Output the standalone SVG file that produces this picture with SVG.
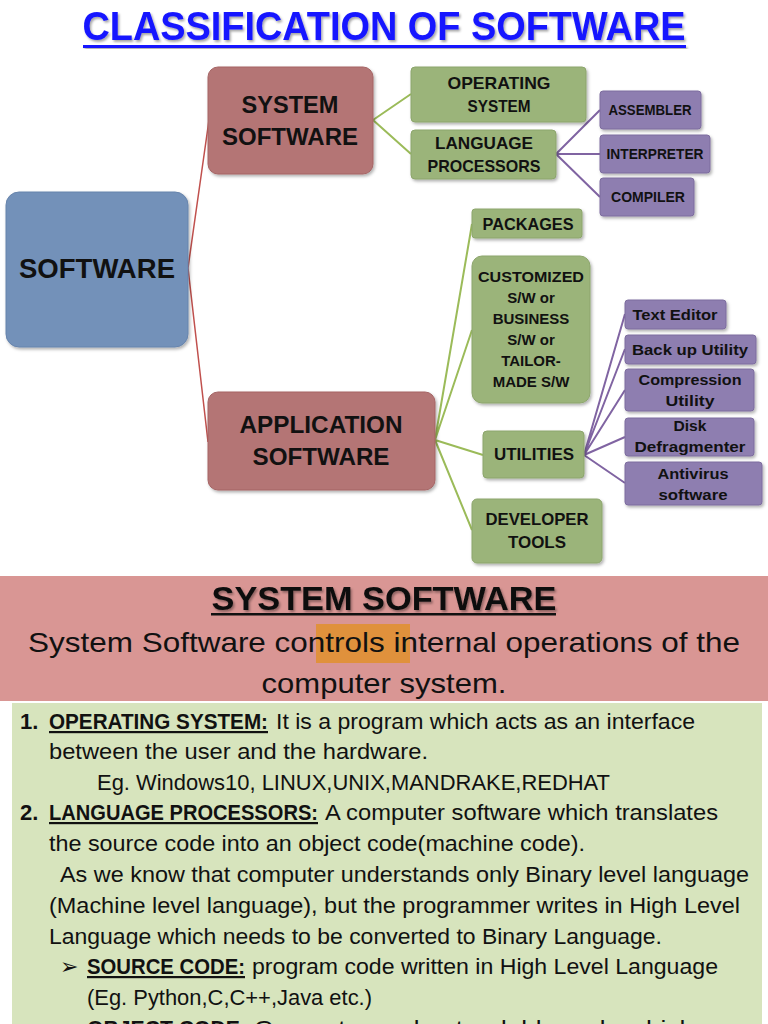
<svg xmlns="http://www.w3.org/2000/svg" width="768" height="1024" viewBox="0 0 768 1024">
<defs>
<filter id="sh" x="-10%" y="-10%" width="130%" height="130%"><feDropShadow dx="1.5" dy="2" stdDeviation="1.5" flood-color="#000" flood-opacity="0.3"/></filter>
<filter id="tsh" x="-5%" y="-20%" width="110%" height="150%"><feDropShadow dx="1.5" dy="2" stdDeviation="1.2" flood-color="#000" flood-opacity="0.35"/></filter>
<style>
.n{font-family:"Liberation Sans",Arial,sans-serif;font-weight:bold;fill:#111;text-anchor:middle}
.blue{fill:#7391b9;stroke:#6784ac;stroke-width:1}
.red{fill:#b47575;stroke:#a56565;stroke-width:1}
.green{fill:#9bb47a;stroke:#8ca56c;stroke-width:1}
.purple{fill:#8e7eb0;stroke:#7d6d9e;stroke-width:1}
.cr{stroke:#c0504d;stroke-width:1.5;fill:none}
.cg{stroke:#9bbb59;stroke-width:2;fill:none}
.cp{stroke:#8064a2;stroke-width:2;fill:none}
.b{font-family:"Liberation Sans",Arial,sans-serif;font-size:22px;fill:#111}
.bb{font-weight:bold;text-decoration:underline}
</style>
</defs>
<rect width="768" height="1024" fill="#fff"/>

<g id="title">
<text x="384" y="40" font-family="Liberation Sans,Arial,sans-serif" font-weight="bold" font-size="40" fill="#1414ff" text-anchor="middle" textLength="603" lengthAdjust="spacingAndGlyphs" filter="url(#tsh)">CLASSIFICATION OF SOFTWARE</text>
<rect x="83" y="45" width="603" height="3" fill="#1414ff" filter="url(#tsh)"/>
</g>

<g id="connectors">
<path class="cr" d="M188,268 L209,120 M188,268 L208,442"/>
<path class="cg" d="M373,120 L411,94 M373,120 L411,154"/>
<path class="cp" d="M556,154 L600,110 M556,154 L600,154 M556,154 L600,197"/>
<path class="cg" d="M435,440 L472,224 M435,440 L472,330 M435,440 L483,455 M435,440 L472,530"/>
<path class="cp" d="M584,455 L625,314 M584,455 L625,349 M584,455 L625,390 M584,455 L625,437 M584,455 L625,483"/>
</g>

<g id="software"><rect class="blue" x="6" y="192" width="182" height="155" rx="13" filter="url(#sh)"/>
<text class="n" x="97" y="278" font-size="27" textLength="156" lengthAdjust="spacingAndGlyphs">SOFTWARE</text></g>

<g id="system-software"><rect class="red" x="208" y="67" width="165" height="107" rx="10" filter="url(#sh)"/>
<text class="n" x="290" y="113" font-size="24" textLength="97" lengthAdjust="spacingAndGlyphs">SYSTEM</text>
<text class="n" x="290" y="145" font-size="24" textLength="136" lengthAdjust="spacingAndGlyphs">SOFTWARE</text></g>

<g id="application-software"><rect class="red" x="208" y="392" width="227" height="98" rx="10" filter="url(#sh)"/>
<text class="n" x="321" y="433" font-size="24" textLength="163" lengthAdjust="spacingAndGlyphs">APPLICATION</text>
<text class="n" x="321" y="465" font-size="24" textLength="137" lengthAdjust="spacingAndGlyphs">SOFTWARE</text></g>

<g id="operating-system"><rect class="green" x="411" y="67" width="175" height="55" rx="4" filter="url(#sh)"/>
<text class="n" x="499" y="89" font-size="17" textLength="103" lengthAdjust="spacingAndGlyphs">OPERATING</text>
<text class="n" x="499" y="112" font-size="17" textLength="63" lengthAdjust="spacingAndGlyphs">SYSTEM</text></g>

<g id="language-processors"><rect class="green" x="411" y="130" width="145" height="49" rx="4" filter="url(#sh)"/>
<text class="n" x="484" y="149" font-size="17" textLength="98" lengthAdjust="spacingAndGlyphs">LANGUAGE</text>
<text class="n" x="484" y="172" font-size="17" textLength="113" lengthAdjust="spacingAndGlyphs">PROCESSORS</text></g>

<g id="assembler"><rect class="purple" x="600" y="91" width="101" height="38" rx="3" filter="url(#sh)"/>
<text class="n" x="650" y="115" font-size="14" textLength="83" lengthAdjust="spacingAndGlyphs">ASSEMBLER</text></g>

<g id="interpreter"><rect class="purple" x="600" y="135" width="110" height="38" rx="3" filter="url(#sh)"/>
<text class="n" x="655" y="159" font-size="14" textLength="97" lengthAdjust="spacingAndGlyphs">INTERPRETER</text></g>

<g id="compiler"><rect class="purple" x="600" y="178" width="94" height="38" rx="3" filter="url(#sh)"/>
<text class="n" x="648" y="202" font-size="14" textLength="74" lengthAdjust="spacingAndGlyphs">COMPILER</text></g>

<g id="packages"><rect class="green" x="472" y="209" width="110" height="29" rx="3" filter="url(#sh)"/>
<text class="n" x="528" y="230" font-size="16" textLength="91" lengthAdjust="spacingAndGlyphs">PACKAGES</text></g>

<g id="customized"><rect class="green" x="472" y="256" width="118" height="147" rx="10" filter="url(#sh)"/>
<text class="n" x="531" y="282" font-size="15" textLength="106" lengthAdjust="spacingAndGlyphs">CUSTOMIZED</text>
<text class="n" x="531" y="303" font-size="15">S/W or</text>
<text class="n" x="531" y="324" font-size="15">BUSINESS</text>
<text class="n" x="531" y="345" font-size="15">S/W or</text>
<text class="n" x="531" y="366" font-size="15">TAILOR-</text>
<text class="n" x="531" y="387" font-size="15">MADE S/W</text></g>

<g id="utilities"><rect class="green" x="483" y="431" width="101" height="47" rx="4" filter="url(#sh)"/>
<text class="n" x="534" y="460" font-size="16" textLength="80" lengthAdjust="spacingAndGlyphs">UTILITIES</text></g>

<g id="developer-tools"><rect class="green" x="472" y="499" width="130" height="64" rx="5" filter="url(#sh)"/>
<text class="n" x="537" y="525" font-size="17" textLength="103" lengthAdjust="spacingAndGlyphs">DEVELOPER</text>
<text class="n" x="537" y="548" font-size="17" textLength="58" lengthAdjust="spacingAndGlyphs">TOOLS</text></g>

<g id="text-editor"><rect class="purple" x="625" y="300" width="101" height="29" rx="3" filter="url(#sh)"/>
<text class="n" x="675" y="320" font-size="15" textLength="85" lengthAdjust="spacingAndGlyphs">Text Editor</text></g>

<g id="backup-utility"><rect class="purple" x="625" y="335" width="131" height="29" rx="3" filter="url(#sh)"/>
<text class="n" x="690" y="355" font-size="15" textLength="116" lengthAdjust="spacingAndGlyphs">Back up Utility</text></g>

<g id="compression-utility"><rect class="purple" x="625" y="369" width="129" height="42" rx="3" filter="url(#sh)"/>
<text class="n" x="690" y="385" font-size="15" textLength="103" lengthAdjust="spacingAndGlyphs">Compression</text>
<text class="n" x="690" y="406" font-size="15" textLength="49" lengthAdjust="spacingAndGlyphs">Utility</text></g>

<g id="disk-defragmenter"><rect class="purple" x="625" y="418" width="129" height="38" rx="3" filter="url(#sh)"/>
<text class="n" x="690" y="431" font-size="15" textLength="33" lengthAdjust="spacingAndGlyphs">Disk</text>
<text class="n" x="690" y="452" font-size="15" textLength="111" lengthAdjust="spacingAndGlyphs">Defragmenter</text></g>

<g id="antivirus-software"><rect class="purple" x="625" y="462" width="137" height="43" rx="3" filter="url(#sh)"/>
<text class="n" x="693" y="479" font-size="15" textLength="71" lengthAdjust="spacingAndGlyphs">Antivirus</text>
<text class="n" x="693" y="500" font-size="15" textLength="69" lengthAdjust="spacingAndGlyphs">software</text></g>

<g id="system-software-banner">
<rect x="0" y="576" width="768" height="125" fill="#d99694"/>
<rect x="316" y="624" width="94" height="39" fill="#e0913c"/>
<text x="384" y="610" font-family="Liberation Sans,Arial,sans-serif" font-weight="bold" font-size="33" fill="#111" text-anchor="middle" textLength="345" lengthAdjust="spacingAndGlyphs" filter="url(#tsh)">SYSTEM SOFTWARE</text>
<rect x="211" y="613" width="345" height="2.5" fill="#111"/>
<text x="28" y="652" font-family="Liberation Sans,Arial,sans-serif" font-size="28" fill="#111" textLength="712" lengthAdjust="spacingAndGlyphs">System Software controls internal operations of the</text>
<text x="384" y="693" font-family="Liberation Sans,Arial,sans-serif" font-size="28" fill="#111" text-anchor="middle" textLength="245" lengthAdjust="spacingAndGlyphs">computer system.</text>
</g>

<g id="system-software-details">
<rect x="12" y="703" width="750" height="330" fill="#d7e4bd"/>
<text class="b" x="20" y="729" font-weight="bold">1.</text>
<text class="b bb" x="49" y="729" textLength="219" lengthAdjust="spacingAndGlyphs">OPERATING SYSTEM:</text>
<text class="b" x="276" y="729" textLength="419" lengthAdjust="spacingAndGlyphs">It is a program which acts as an interface</text>
<text class="b" x="49" y="759" textLength="379" lengthAdjust="spacingAndGlyphs">between the user and the hardware.</text>
<text class="b" x="97" y="790" textLength="513" lengthAdjust="spacingAndGlyphs">Eg. Windows10, LINUX,UNIX,MANDRAKE,REDHAT</text>
<text class="b" x="20" y="820" font-weight="bold">2.</text>
<text class="b bb" x="49" y="820" textLength="269" lengthAdjust="spacingAndGlyphs">LANGUAGE PROCESSORS:</text>
<text class="b" x="325" y="820" textLength="393" lengthAdjust="spacingAndGlyphs">A computer software which translates</text>
<text class="b" x="49" y="851" textLength="536" lengthAdjust="spacingAndGlyphs">the source code into an object code(machine code).</text>
<text class="b" x="60" y="882" textLength="689" lengthAdjust="spacingAndGlyphs">As we know that computer understands only Binary level language</text>
<text class="b" x="49" y="913" textLength="691" lengthAdjust="spacingAndGlyphs">(Machine level language), but the programmer writes in High Level</text>
<text class="b" x="49" y="944" textLength="613" lengthAdjust="spacingAndGlyphs">Language which needs to be converted to Binary Language.</text>
<text class="b" x="60" y="974" font-family="DejaVu Sans,sans-serif" font-size="18">➢</text>
<text class="b bb" x="87" y="974" textLength="158" lengthAdjust="spacingAndGlyphs">SOURCE CODE:</text>
<text class="b" x="252" y="974" textLength="466" lengthAdjust="spacingAndGlyphs">program code written in High Level Language</text>
<text class="b" x="87" y="1005" textLength="285" lengthAdjust="spacingAndGlyphs">(Eg. Python,C,C++,Java etc.)</text>
<text class="b" x="60" y="1036" font-family="DejaVu Sans,sans-serif" font-size="18">➢</text>
<text class="b bb" x="87" y="1036" textLength="160" lengthAdjust="spacingAndGlyphs">OBJECT CODE:</text>
<text class="b" x="254" y="1036" textLength="440" lengthAdjust="spacingAndGlyphs">Computer understandable code which</text>
</g>
</svg>
